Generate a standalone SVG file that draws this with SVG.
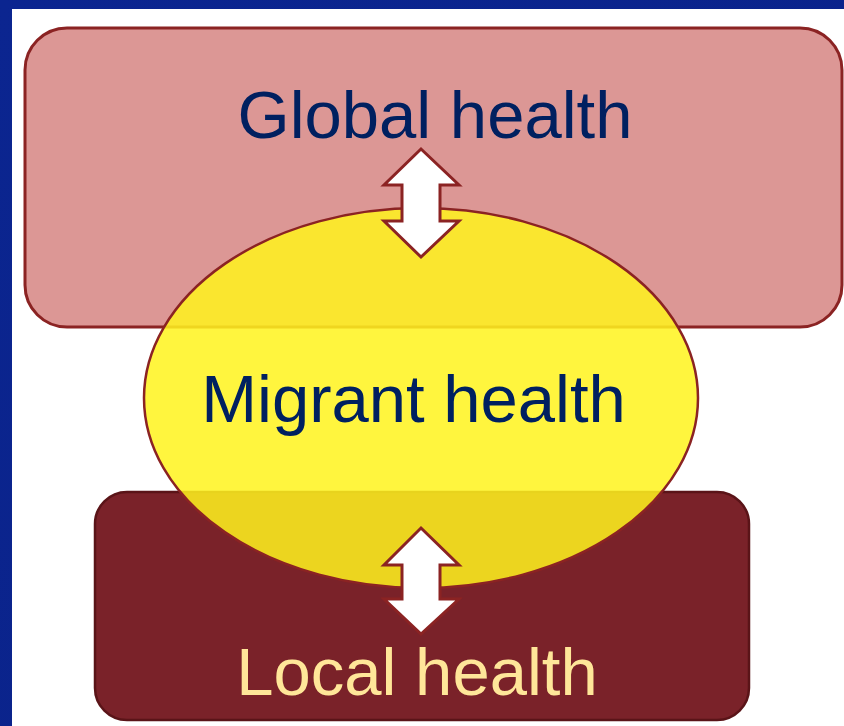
<svg xmlns="http://www.w3.org/2000/svg" width="844" height="726" viewBox="0 0 844 726">
<style>
.lbl{font-family:"Liberation Sans",Arial,sans-serif;font-size:67px;text-anchor:middle}
.arrow{fill:#FFFFFF;stroke:#8B2323;stroke-width:3;stroke-linejoin:miter}
</style>
<defs>
<linearGradient id="bg" x1="0" y1="0" x2="1" y2="1">
<stop offset="0" stop-color="#0B2590"/>
<stop offset="1" stop-color="#0A2288"/>
</linearGradient>
</defs>
<rect x="0" y="0" width="844" height="726" fill="url(#bg)"/>
<rect x="12" y="9" width="832" height="717" fill="#FFFFFF"/>
<g id="global">
<rect x="25" y="28" width="817" height="299" rx="42" ry="42" fill="#DC9795" stroke="#8B2323" stroke-width="3"/>
<text class="lbl" x="435" y="138" fill="#002060">Global health</text>
</g>
<g id="local">
<rect x="95" y="492" width="654" height="228" rx="32" ry="32" fill="#7A2229" stroke="#5A1418" stroke-width="2.5"/>
<text class="lbl" x="417" y="695" fill="#FFE699">Local health</text>
</g>
<g id="migrant">
<ellipse cx="421" cy="398" rx="277" ry="190" fill="#FFF31E" fill-opacity="0.86" stroke="#8B2323" stroke-width="2.5"/>
<text class="lbl" x="413.5" y="422" fill="#002060">Migrant health</text>
</g>
<g id="connectors">
<polygon class="arrow" points="421,149 459,185 440,185 440,221 459,221 421,257 384,221 402,221 402,185 384,185"/>
<polygon class="arrow" points="421,528 459,565 440,565 440,599 459,599 421,634 384,599 402,599 402,565 384,565"/>
</g>
</svg>
